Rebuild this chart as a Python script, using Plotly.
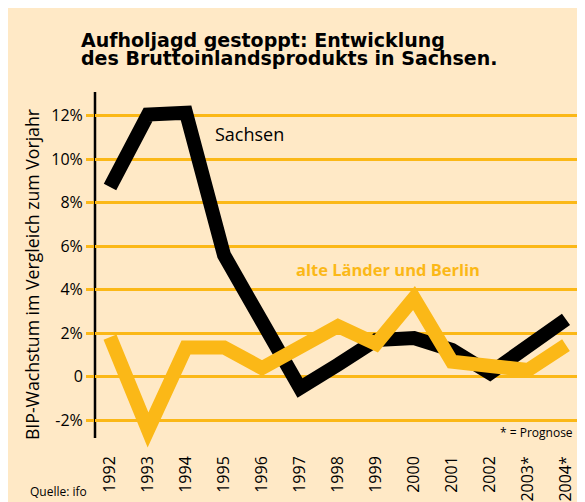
import plotly.graph_objects as go

years = [1992, 1993, 1994, 1995, 1996, 1997, 1998, 1999, 2000, 2001, 2002, 2003, 2004]
year_labels = ["1992", "1993", "1994", "1995", "1996", "1997", "1998", "1999",
               "2000", "2001", "2002", "2003*", "2004*"]
sachsen = [8.72, 12.05, 12.14, 5.60, 2.54, -0.51, 0.56, 1.69, 1.78, 1.23, 0.17, 1.35, 2.64]
alte_laender = [1.82, -2.44, 1.35, 1.35, 0.40, 1.35, 2.33, 1.51, 3.62, 0.69, 0.50, 0.31, 1.46]
y_ticks = [-2, 0, 2, 4, 6, 8, 10, 12]
y_ticktext = ["-2%", "0", "2%", "4%", "6%", "8%", "10%", "12%"]

ORANGE = "#FBB817"
CREAM = "#FFE9C6"
FONT = "Open Sans"
TITLE_FONT = "DejaVu Sans"

fig = go.Figure()
fig.add_trace(go.Scatter(x=years, y=sachsen, mode="lines",
                         line=dict(color="black", width=14), name="Sachsen"))
fig.add_trace(go.Scatter(x=years, y=alte_laender, mode="lines",
                         line=dict(color=ORANGE, width=14), name="alte Länder und Berlin"))

fig.update_layout(
    width=575, height=494,
    margin=dict(l=87, r=5, t=84, b=50),
    paper_bgcolor=CREAM,
    plot_bgcolor=CREAM,
    showlegend=False,
    font=dict(family=FONT, color="black"),
    shapes=[
        dict(type="line", xref="paper", yref="y", x0=-0.0166, x1=1, y0=0, y1=0,
             line=dict(color="black", width=2.5), layer="below"),
        dict(type="line", xref="paper", yref="paper", x0=0, x1=0, y0=0.0389, y1=1,
             line=dict(color="black", width=2.5), layer="below"),
    ],
)
fig.update_xaxes(range=[1991.605, 2004.316], tickvals=years, ticktext=year_labels,
                 tickangle=-90, showgrid=False, zeroline=False, showline=False,
                 ticks="", automargin=False, tickfont=dict(size=16, family=FONT))
fig.update_yaxes(range=[-3.456, 13.09], tickvals=y_ticks, ticktext=y_ticktext,
                 showgrid=True, gridcolor=ORANGE, gridwidth=2.5, zeroline=False,
                 showline=False, ticks="outside", ticklen=8, tickwidth=2.5,
                 automargin=False, tickcolor=ORANGE, tickfont=dict(size=16, family=FONT))

ann = [
    dict(text="<b>Aufholjagd gestoppt: Entwicklung</b>", x=-0.0331, y=1.1444,
         xanchor="left", yanchor="middle", font=dict(size=19, family=TITLE_FONT)),
    dict(text="<b>des Bruttoinlandsprodukts in Sachsen.</b>", x=-0.0331, y=1.0947,
         xanchor="left", yanchor="middle", font=dict(size=19, family=TITLE_FONT)),
    dict(text="BIP-Wachstum im Vergleich zum Vorjahr", x=-0.1304, y=0.4914,
         textangle=-90, xanchor="center", yanchor="middle", font=dict(size=17.7)),
    dict(text="Sachsen", x=0.3209, y=0.8833, xanchor="center", yanchor="middle",
         font=dict(size=18)),
    dict(text="<b>alte Länder und Berlin</b>", x=0.6066, y=0.5083, xanchor="center",
         yanchor="middle", font=dict(size=16.5, color=ORANGE)),
    dict(text="* = Prognose", x=0.8345, y=0.0528, xanchor="left", yanchor="middle",
         font=dict(size=12)),
    dict(text="Quelle: ifo", x=-0.1387, y=-0.1111, xanchor="left", yanchor="middle",
         font=dict(size=12)),
]
for a in ann:
    a.update(xref="paper", yref="paper", showarrow=False)
    fig.add_annotation(**a)

sharp_joins = (
    "document.querySelectorAll('path.js-line').forEach(function(p){"
    "p.style.strokeMiterlimit='10'; p.style.strokeLinejoin='miter';});"
)
fig.write_html("out.html", post_script=sharp_joins)
